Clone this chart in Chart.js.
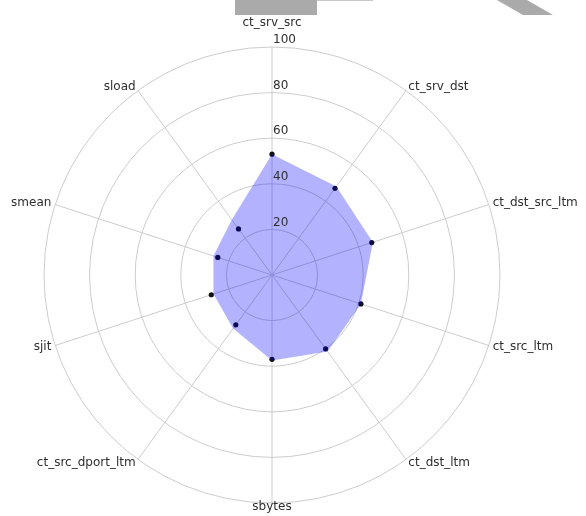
<!DOCTYPE html>
<html>
<head>
<meta charset="utf-8">
<script src="https://cdn.jsdelivr.net/npm/chart.js@4.4.1/dist/chart.umd.min.js"></script>
<style>
  html, body { margin: 0; padding: 0; background: #fff; }
  #wrap { position: relative; width: 586px; height: 516px; }
  .band { position: absolute; background: #aaaaaa; }
</style>
</head>
<body>
<div id="wrap">
  <canvas id="radar-chart" width="586" height="516"></canvas>
  <div class="band" style="left:235px; top:0; width:82px; height:15px;"></div>
  <div class="band" style="left:317px; top:0; width:56px; height:1px; background:#c8c8c8;"></div>
  <div class="band" style="left:497px; top:0; width:56px; height:15px; clip-path: polygon(0 0, 30px 0, 56px 15px, 26px 15px);"></div>
</div>
<script>
const features = ['ct_srv_src', 'ct_srv_dst', 'ct_dst_src_ltm', 'ct_src_ltm', 'ct_dst_ltm',
    'sbytes', 'ct_src_dport_ltm', 'sjit', 'smean', 'sload'];
// shaded area and the marked scores
const areaScores = [53, 48, 46.5, 41, 41.5, 37.5, 29, 27, 27, 30];
const pointScores = [53, 47, 46, 41, 40, 37, 27, 28, 25, 25];
const radialTicks = [20, 40, 60, 80, 100];

const FONT = '12px "DejaVu Sans", sans-serif';
const TEXT = '#2e2e2e';

// axis names and radial tick values
const polarText = {
    id: 'polarText',
    afterDatasetsDraw(chart) {
        const scale = chart.scales.r;
        const ctx = chart.ctx;
        ctx.save();
        ctx.font = FONT;
        ctx.fillStyle = TEXT;
        ctx.textBaseline = 'middle';

        features.forEach((name, i) => {
            const pad = i === 0 ? 24 : 4;
            const p = scale.getPointPosition(i, scale.drawingArea + pad);
            const dx = p.x - scale.xCenter;
            ctx.textAlign = Math.abs(dx) < 1 ? 'center' : (dx > 0 ? 'left' : 'right');
            ctx.fillText(name, p.x, p.y);
        });

        ctx.textAlign = 'left';
        radialTicks.forEach(v => {
            const p = scale.getPointPositionForValue(0, v);
            ctx.fillText(String(v), p.x + 1, p.y - 7);
        });
        ctx.restore();
    }
};

const ctx = document.getElementById('radar-chart');
const RadarChart = new Chart(ctx, {
    type: 'radar',
    data: {
        labels: features,
        datasets: [{
            data: areaScores,
            fill: true,
            backgroundColor: 'rgba(0, 0, 255, 0.3)',
            borderWidth: 0,
            pointRadius: 0,
            pointHoverRadius: 0
        }, {
            data: pointScores,
            showLine: false,
            fill: false,
            pointRadius: 2.6,
            pointHoverRadius: 2.6,
            pointBorderWidth: 0,
            pointBackgroundColor: '#111111'
        }]
    },
    options: {
        responsive: false,
        animation: false,
        layout: {
            padding: { top: 47, bottom: 13, left: 0, right: 42 }
        },
        plugins: {
            legend: { display: false },
            tooltip: { enabled: false }
        },
        scales: {
            r: {
                min: 0,
                max: 100,
                ticks: { stepSize: 20, display: false },
                pointLabels: { display: false },
                grid: { circular: true, color: '#cccccc', lineWidth: 1 },
                angleLines: { color: '#cccccc', lineWidth: 1 }
            }
        }
    },
    plugins: [polarText]
});
</script>
</body>
</html>
